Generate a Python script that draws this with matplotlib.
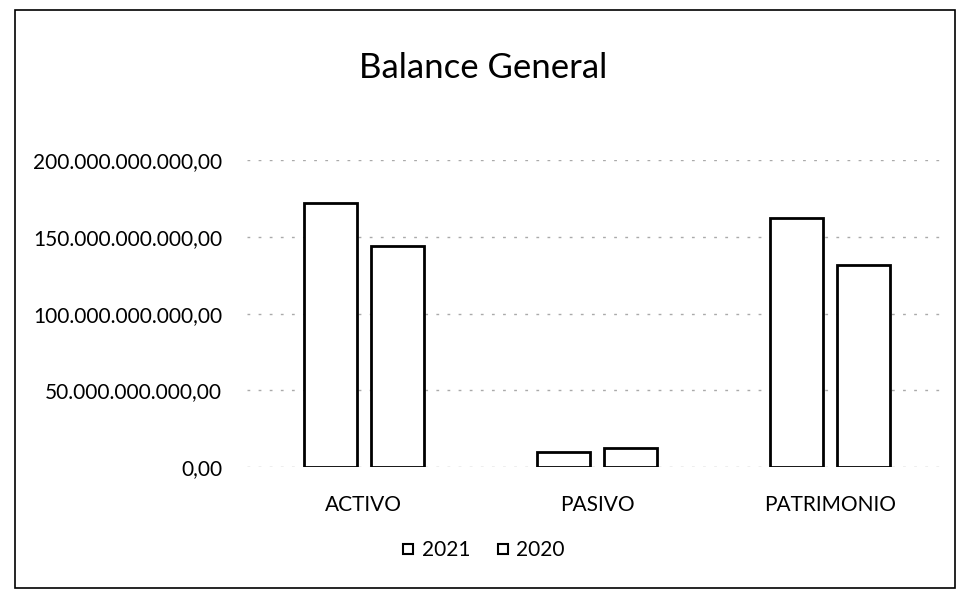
import numpy as np
import matplotlib.pyplot as plt
from matplotlib.patches import Rectangle
from matplotlib.lines import Line2D
from matplotlib.ticker import FuncFormatter

plt.rcParams['font.family'] = ['Lato', 'DejaVu Sans']

categories = ["ACTIVO", "PASIVO", "PATRIMONIO"]
years = ["2021", "2020"]
values_2021 = [172e9, 9.5e9, 162.5e9]
values_2020 = [144e9, 12.5e9, 131.5e9]
y_ticks = [0, 50e9, 100e9, 150e9, 200e9]


def fmt(v, pos):
    s = "{:,.2f}".format(v)
    return s.replace(",", "X").replace(".", ",").replace("X", ".")


fig = plt.figure(figsize=(9.66, 6.01), dpi=100)
ax = fig.add_axes([0.256, 0.223, 0.724, 0.51])

x = np.arange(len(categories))
w = 0.227
gap = 0.03
ax.bar(x - w / 2 - gap, values_2021, w, color="white", edgecolor="black", linewidth=2, zorder=3)
ax.bar(x + w / 2 + gap, values_2020, w, color="white", edgecolor="black", linewidth=2, zorder=3)

ax.set_xlim(-0.5, 2.5)
ax.set_ylim(0, 200e9)
ax.set_yticks(y_ticks)
ax.yaxis.set_major_formatter(FuncFormatter(fmt))
ax.set_xticks(x)
ax.set_xticklabels(categories)
ax.tick_params(axis="both", length=0, labelsize=15, colors="black")
ax.tick_params(axis="x", pad=20)
ax.tick_params(axis="y", pad=18)
ax.grid(axis="y", color="#aaaaaa", linestyle=(0, (2, 6)), linewidth=1, zorder=0)
for s in ax.spines.values():
    s.set_visible(False)

# legend: small hollow squares right before the year text
handles = [Line2D([], [], marker="s", linestyle="none", markersize=7,
                  markerfacecolor="white", markeredgecolor="black", markeredgewidth=1.5)
           for _ in years]
fig.legend(handles, years, loc="center", bbox_to_anchor=(0.5, 0.085), ncol=2,
           frameon=False, fontsize=15, handlelength=0.7, handletextpad=0.3,
           columnspacing=1.2)

fig.text(0.5, 0.887, "Balance General", ha="center", va="center", fontsize=25)

fig.patches.append(Rectangle((0.016, 0.022), 0.973, 0.962, transform=fig.transFigure,
                             fill=False, edgecolor="black", linewidth=1.2))

plt.savefig("out.png", dpi=100)
